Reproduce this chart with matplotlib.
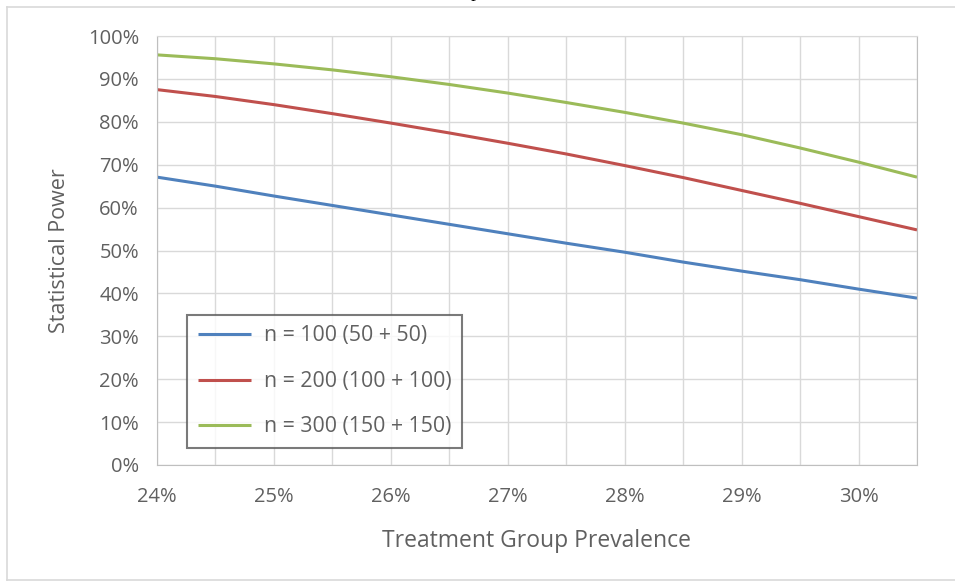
import matplotlib.pyplot as plt
from matplotlib.ticker import MultipleLocator, FuncFormatter
from matplotlib.lines import Line2D

prevalence = [24.0, 24.5, 25.0, 25.5, 26.0, 26.5, 27.0, 27.5, 28.0, 28.5, 29.0, 29.5, 30.0, 30.5]
power_100 = [67.1, 65.0, 62.7, 60.5, 58.3, 56.1, 53.9, 51.7, 49.6, 47.3, 45.2, 43.2, 41.0, 38.9]
power_200 = [87.5, 85.9, 84.0, 81.9, 79.7, 77.4, 75.0, 72.5, 69.8, 67.0, 64.0, 61.0, 57.9, 54.8]
power_300 = [95.6, 94.7, 93.5, 92.1, 90.5, 88.7, 86.7, 84.5, 82.2, 79.7, 77.0, 73.9, 70.6, 67.1]
labels = ['n = 100 (50 + 50)', 'n = 200 (100 + 100)', 'n = 300 (150 + 150)']
colors = ['#4F81BD', '#C0504D', '#9BBB59']

plt.rcParams['font.family'] = ['Open Sans', 'DejaVu Sans']

fig = plt.figure(figsize=(9.55, 5.81), dpi=100)
ax = fig.add_axes([157 / 955, 116 / 581, 760 / 955, 429 / 581])

for ys, lab, c in zip([power_100, power_200, power_300], labels, colors):
    ax.plot(prevalence, ys, color=c, lw=2.2, label=lab, solid_capstyle='butt')

ax.set_xlim(24, 30.5)
ax.set_ylim(0, 100)
ax.xaxis.set_major_locator(MultipleLocator(1))
ax.xaxis.set_minor_locator(MultipleLocator(0.5))
ax.yaxis.set_major_locator(MultipleLocator(10))
ax.xaxis.set_major_formatter(FuncFormatter(lambda v, p: f'{v:.0f}%'))
ax.yaxis.set_major_formatter(FuncFormatter(lambda v, p: f'{v:.0f}%'))
ax.grid(True, which='both', color='#d9d9d9', lw=1)
ax.set_axisbelow(True)
ax.tick_params(which='both', length=0, labelsize=14.5, labelcolor='#606060')
ax.tick_params(axis='x', pad=16)
ax.tick_params(axis='y', pad=13)
for s in ['left', 'bottom', 'right']:
    ax.spines[s].set_color('#bfbfbf')
ax.spines['top'].set_color('#d9d9d9')

ax.set_xlabel('Treatment Group Prevalence', fontsize=16.5, color='#606060', labelpad=16)
ax.set_ylabel('Statistical Power', fontsize=15.5, color='#606060', labelpad=13)

leg = ax.legend(loc='lower left', bbox_to_anchor=(30 / 760, 17 / 429), fontsize=15.3,
                frameon=True, fancybox=False, handlelength=2.5, handletextpad=0.6,
                labelspacing=1.15, borderpad=0.5, borderaxespad=0, labelcolor='#606060')
leg.get_frame().set_edgecolor('#595959')
leg.get_frame().set_linewidth(1.5)

# outer chart border
fig.add_artist(Line2D([7 / 955, 7 / 955], [1 / 581, 574 / 581], transform=fig.transFigure, color='#d9d9d9', lw=1.2))
fig.add_artist(Line2D([7 / 955, 1], [574 / 581, 574 / 581], transform=fig.transFigure, color='#d9d9d9', lw=1.2))
fig.add_artist(Line2D([7 / 955, 1], [1 / 581, 1 / 581], transform=fig.transFigure, color='#d9d9d9', lw=1.2))

# cropped text above the chart
fig.text(475 / 955, 1.006, 'p', fontsize=14, family='Liberation Serif', ha='center', va='baseline')

fig.savefig('out.png', dpi=100)
